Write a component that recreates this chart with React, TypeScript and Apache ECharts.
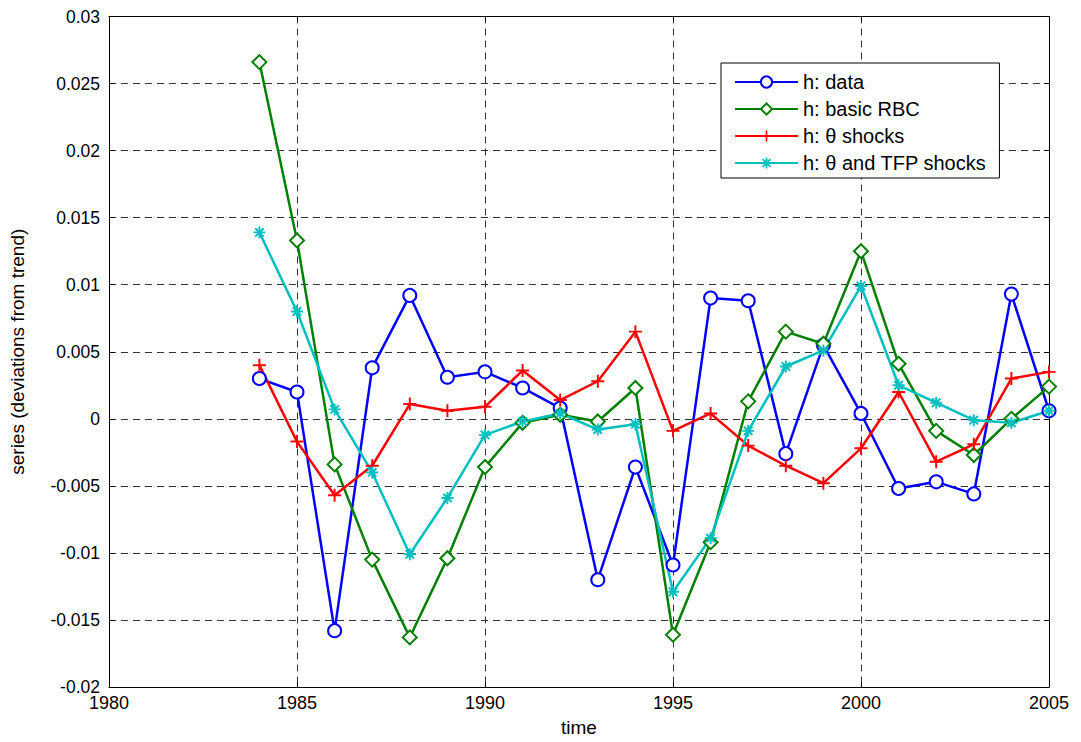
import React, { useEffect, useRef } from "react";
import * as echarts from "echarts";

const years = [1984, 1985, 1986, 1987, 1988, 1989, 1990, 1991, 1992, 1993, 1994, 1995, 1996, 1997, 1998, 1999, 2000, 2001, 2002, 2003, 2004, 2005];

const hData = [0.0030, 0.0020, -0.0158, 0.0038, 0.0092, 0.0031, 0.0035, 0.0023, 0.0008, -0.0120, -0.0036, -0.0109, 0.0090, 0.0088, -0.0026, 0.0055, 0.0004, -0.0052, -0.0047, -0.0056, 0.0093, 0.0006];
const hRBC = [0.0266, 0.0133, -0.0034, -0.0105, -0.0163, -0.0104, -0.0036, -0.0003, 0.0003, -0.0002, 0.0023, -0.0161, -0.0092, 0.0013, 0.0065, 0.0056, 0.0125, 0.0041, -0.0009, -0.0027, 0.0000, 0.0024];
const hTheta = [0.0040, -0.0017, -0.0057, -0.0035, 0.0011, 0.0006, 0.0009, 0.0036, 0.0014, 0.0028, 0.0065, -0.0009, 0.0004, -0.0020, -0.0035, -0.0048, -0.0022, 0.0020, -0.0032, -0.0019, 0.0030, 0.0035];
const hThetaTFP = [0.0139, 0.0080, 0.0007, -0.0040, -0.0101, -0.0059, -0.0012, -0.0002, 0.0004, -0.0008, -0.0004, -0.0129, -0.0089, -0.0009, 0.0039, 0.0051, 0.0099, 0.0025, 0.0012, -0.0001, -0.0003, 0.0006];

const seriesNames = ["h: data", "h: basic RBC", "h: θ shocks", "h: θ and TFP shocks"];
const seriesColors = ["#0000ff", "#008000", "#ff0000", "#00bfbf"];

const PLUS = "path://M-0.15,-1 L0.15,-1 L0.15,-0.15 L1,-0.15 L1,0.15 L0.15,0.15 L0.15,1 L-0.15,1 L-0.15,0.15 L-1,0.15 L-1,-0.15 L-0.15,-0.15 Z";
const STAR = "path://M-0.16,-1 L0.16,-1 L0.16,-0.16 L1,-0.16 L1,0.16 L0.16,0.16 L0.16,1 L-0.16,1 L-0.16,0.16 L-1,0.16 L-1,-0.16 L-0.16,-0.16 Z M-0.58,-0.82 L0.82,0.58 L0.58,0.82 L-0.82,-0.58 Z M0.82,-0.58 L-0.58,0.82 L-0.82,0.58 L0.58,-0.82 Z";

const FONT = "'Liberation Sans', Arial, Helvetica, sans-serif";

export default function App() {
  const ref = useRef<HTMLDivElement>(null);
  useEffect(() => {
    document.body.style.margin = "0";
    if (!ref.current) return;
    const chart = echarts.init(ref.current, null, { renderer: "svg" });
    const mk = (vals: number[]) => years.map((y, i) => [y, vals[i]]);
    const allVals = [hData, hRBC, hTheta, hThetaTFP];
    const symbols = ["emptyCircle", "emptyDiamond", PLUS, STAR];
    const symbolSizes = [13, 14, 13, 12];
    const grid = { left: 106, right: 32, top: 16.5, bottom: 51.5 };
    const gridLine = { show: true, lineStyle: { color: "#333", type: [7, 5] as any, width: 1 } };
    const axisLine = { show: true, onZero: false, lineStyle: { color: "#000", width: 1 } };
    const axisTick = { show: true, inside: true, length: 5, lineStyle: { color: "#000" } };
    chart.setOption({
      animation: false,
      backgroundColor: "#fff",
      grid,
      legend: {
        show: true,
        data: seriesNames,
        orient: "vertical",
        left: 721,
        top: 63,
        padding: [9, 13, 5, 13],
        itemGap: 7,
        itemWidth: 63,
        itemHeight: 14,
        backgroundColor: "#fff",
        borderColor: "#000",
        borderWidth: 1,
        textStyle: { fontFamily: FONT, fontSize: 20, color: "#000" },
      },
      xAxis: [
        {
          type: "value",
          min: 1980,
          max: 2005,
          interval: 5,
          position: "bottom",
          name: "time",
          nameLocation: "middle",
          nameGap: 31,
          nameTextStyle: { fontFamily: FONT, fontSize: 19, color: "#000" },
          axisLine,
          axisTick,
          axisLabel: { fontFamily: FONT, fontSize: 18, color: "#000", margin: 7, formatter: (v: number) => String(v) },
          splitLine: gridLine,
        },
        {
          type: "value",
          min: 1980,
          max: 2005,
          interval: 5,
          position: "top",
          axisLine,
          axisTick,
          axisLabel: { show: false },
          splitLine: { show: false },
        },
      ],
      yAxis: [
        {
          type: "value",
          min: -0.02,
          max: 0.03,
          interval: 0.005,
          position: "left",
          name: "series (deviations from trend)",
          nameLocation: "middle",
          nameGap: 82,
          nameTextStyle: { fontFamily: FONT, fontSize: 19, color: "#000" },
          axisLine,
          axisTick,
          axisLabel: {
            fontFamily: FONT,
            fontSize: 17.5,
            color: "#000",
            margin: 9,
            formatter: (v: number) => String(parseFloat(v.toFixed(4))),
          },
          splitLine: gridLine,
        },
        {
          type: "value",
          min: -0.02,
          max: 0.03,
          interval: 0.005,
          position: "right",
          axisLine,
          axisTick,
          axisLabel: { show: false },
          splitLine: { show: false },
        },
      ],
      series: seriesNames.map((name, i) => ({
        name,
        type: "line",
        xAxisIndex: 0,
        yAxisIndex: 0,
        data: mk(allVals[i]),
        symbol: symbols[i],
        symbolSize: symbolSizes[i],
        showAllSymbol: true,
        color: seriesColors[i],
        lineStyle: { color: seriesColors[i], width: 2.5 },
        itemStyle: { color: seriesColors[i], borderColor: seriesColors[i], borderWidth: i < 2 ? 2.5 : 0 },
        emphasis: { disabled: true },
      })),
    });
    return () => chart.dispose();
  }, []);
  return <div ref={ref} style={{ width: 1081, height: 742 }} />;
}
